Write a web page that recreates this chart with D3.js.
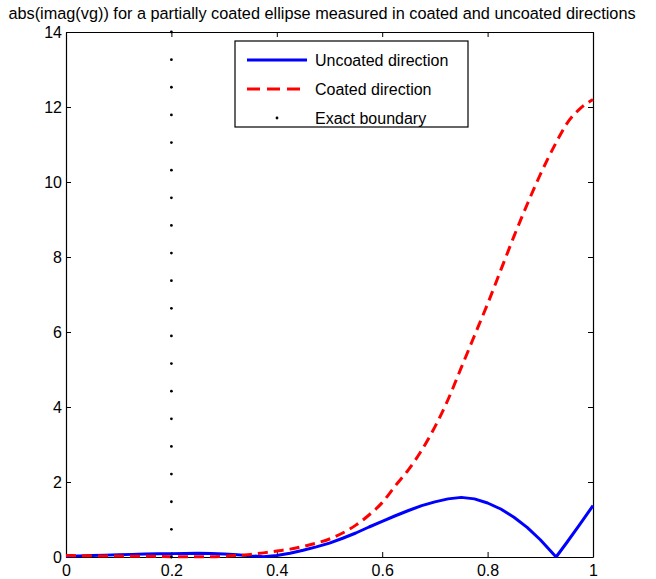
<!DOCTYPE html>
<html>
<head>
<meta charset="utf-8">
<script src="https://cdn.jsdelivr.net/npm/d3@7"></script>
<style>
  body { margin: 0; background: #fff; }
  text { font-family: "Liberation Sans", Arial, sans-serif; }
</style>
</head>
<body>
<div id="chart"></div>
<script>
// x positions shared by both curves
const xs = [0, 0.025, 0.05, 0.075, 0.1, 0.125, 0.15, 0.175, 0.2, 0.225, 0.25, 0.275, 0.3,
    0.325, 0.35, 0.375, 0.4, 0.425, 0.45, 0.475, 0.5, 0.525, 0.55, 0.575, 0.6, 0.625,
    0.65, 0.675, 0.7, 0.725, 0.75, 0.775, 0.8, 0.825, 0.85, 0.875, 0.9, 0.93, 0.95, 0.975, 1];

const uncoated = [0.02, 0.03, 0.04, 0.05, 0.06, 0.07, 0.08, 0.085, 0.09, 0.095, 0.1, 0.095, 0.08,
    0.06, 0.03, 0.01, 0.04, 0.1, 0.18, 0.27, 0.37, 0.5, 0.64, 0.8, 0.95, 1.1,
    1.24, 1.37, 1.47, 1.55, 1.59, 1.55, 1.44, 1.28, 1.06, 0.79, 0.46, 0.0, 0.38, 0.87, 1.37];

const coated = [0.04, 0.035, 0.03, 0.03, 0.025, 0.02, 0.02, 0.015, 0.01, 0.01, 0.01, 0.01, 0.02,
    0.04, 0.07, 0.11, 0.16, 0.21, 0.28, 0.37, 0.48, 0.64, 0.85, 1.12, 1.45, 1.9,
    2.33, 2.85, 3.47, 4.2, 5.05, 5.9, 6.75, 7.65, 8.55, 9.4, 10.2, 11.05, 11.55, 11.95, 12.2];

// exact boundary: dotted vertical line at x = 0.2
const boundaryX = 0.2;
const boundaryY = d3.range(20).map(k => k * 14 / 19);

const xTicks = [0, 0.2, 0.4, 0.6, 0.8, 1];
const yTicks = [0, 2, 4, 6, 8, 10, 12, 14];
const legendLabels = ["Uncoated direction", "Coated direction", "Exact boundary"];
const title = "abs(imag(vg)) for a partially coated ellipse measured in coated and uncoated directions";

const W = 656, H = 579;
const m = {left: 66, right: 63, top: 32, bottom: 22};
const w = W - m.left - m.right;
const h = H - m.top - m.bottom;

const svg = d3.select("#chart").append("svg")
    .attr("width", W)
    .attr("height", H);

svg.append("text")
    .attr("x", 322)
    .attr("y", 19)
    .attr("text-anchor", "middle")
    .style("font-size", "16.3px")
    .text(title);

const g = svg.append("g")
    .attr("transform", "translate(" + m.left + "," + m.top + ")");

const x = d3.scaleLinear().domain([0, 1]).range([0, w]);
const y = d3.scaleLinear().domain([0, 14]).range([h, 0]);

// axes, matlab style: ticks inward, box all round
const fmt = d => String(d);
g.append("g")
    .attr("transform", "translate(0," + h + ")")
    .call(d3.axisBottom(x).tickValues(xTicks).tickFormat(fmt).tickSizeInner(-5).tickSizeOuter(0).tickPadding(8));
g.append("g")
    .call(d3.axisTop(x).tickValues(xTicks).tickFormat("").tickSizeInner(-5).tickSizeOuter(0));
g.append("g")
    .call(d3.axisLeft(y).tickValues(yTicks).tickFormat(fmt).tickSizeInner(-5).tickSizeOuter(0).tickPadding(4));
g.append("g")
    .attr("transform", "translate(" + w + ",0)")
    .call(d3.axisRight(y).tickValues(yTicks).tickFormat("").tickSizeInner(-5).tickSizeOuter(0));

g.selectAll(".domain").attr("stroke", "#000").attr("stroke-width", 1.2);
g.selectAll(".tick line").attr("stroke", "#000");
g.selectAll(".tick text")
    .style("font-size", "16px")
    .style("font-family", "'Liberation Sans', Arial, sans-serif")
    .attr("fill", "#000");

const line = d3.line()
    .x(d => x(d[0]))
    .y(d => y(d[1]))
    .curve(d3.curveMonotoneX);

// blue has a cusp at 0.93, so draw it as two smooth pieces
const cusp = xs.indexOf(0.93);
const bluePts = xs.map((v, i) => [v, uncoated[i]]);
[bluePts.slice(0, cusp + 1), bluePts.slice(cusp)].forEach(part => {
    g.append("path")
        .datum(part)
        .attr("fill", "none")
        .attr("stroke", "#0000ff")
        .attr("stroke-width", 3)
        .attr("stroke-linejoin", "round")
        .attr("d", line.curve(d3.curveLinear));
});

g.append("path")
    .datum(xs.map((v, i) => [v, coated[i]]))
    .attr("fill", "none")
    .attr("stroke", "#ff0000")
    .attr("stroke-width", 3)
    .attr("stroke-dasharray", "10,6")
    .attr("d", line.curve(d3.curveMonotoneX));

g.selectAll(".bdot")
    .data(boundaryY)
    .enter()
    .append("circle")
    .attr("class", "bdot")
    .attr("cx", x(boundaryX))
    .attr("cy", d => y(d))
    .attr("r", 1.4)
    .attr("fill", "#000");

// legend
const lg = svg.append("g").attr("transform", "translate(235,41)");
lg.append("rect")
    .attr("width", 233)
    .attr("height", 86)
    .attr("fill", "#fff")
    .attr("stroke", "#000")
    .attr("stroke-width", 1.2);

const rows = lg.selectAll(".row")
    .data(legendLabels)
    .enter()
    .append("g")
    .attr("transform", (d, i) => "translate(0," + (19 + i * 29) + ")");

rows.append("text")
    .attr("x", 80)
    .attr("y", 6)
    .style("font-size", "16px")
    .text(d => d);

rows.filter((d, i) => i === 0).append("line")
    .attr("x1", 12).attr("x2", 72)
    .attr("stroke", "#0000ff").attr("stroke-width", 3);
rows.filter((d, i) => i === 1).append("line")
    .attr("x1", 12).attr("x2", 72)
    .attr("stroke", "#ff0000").attr("stroke-width", 3)
    .attr("stroke-dasharray", "13,7");
rows.filter((d, i) => i === 2).append("circle")
    .attr("cx", 42).attr("r", 1.4).attr("fill", "#000");
</script>
</body>
</html>
